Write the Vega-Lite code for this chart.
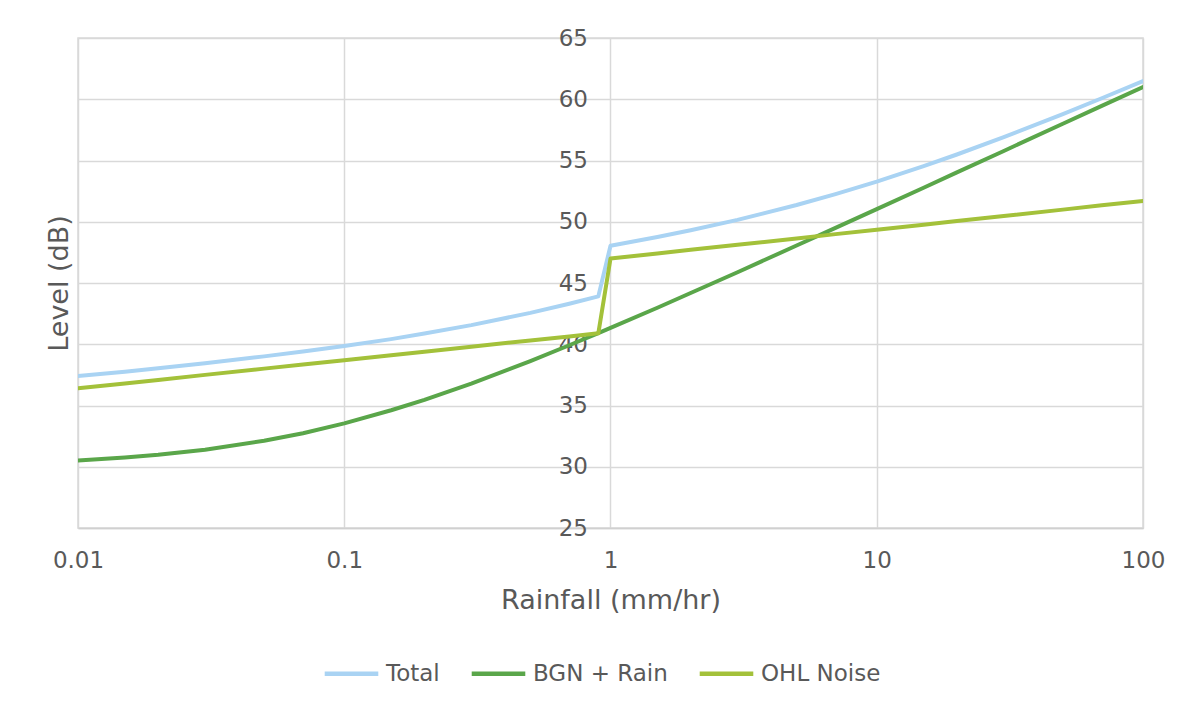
{
  "$schema": "https://vega.github.io/schema/vega-lite/v6.json",
  "autosize": "none",
  "width": 1065,
  "height": 490,
  "padding": {"left": 78, "top": 38, "right": 50, "bottom": 174},
  "background": "white",
  "config": {
    "font": "DejaVu Sans",
    "view": {"stroke": "#d9d9d9", "strokeWidth": 1.5},
    "axis": {
      "labelFont": "DejaVu Sans",
      "titleFont": "DejaVu Sans",
      "labelColor": "#595959",
      "titleColor": "#595959",
      "titleFontWeight": "normal",
      "gridColor": "#d9d9d9",
      "gridWidth": 1.5,
      "ticks": false
    },
    "legend": {
      "labelFont": "DejaVu Sans",
      "labelColor": "#595959"
    }
  },
  "data": {
    "values": [
      {"rain": 0.01, "series": "Total", "level": 37.40},
      {"rain": 0.015, "series": "Total", "level": 37.76},
      {"rain": 0.02, "series": "Total", "level": 38.04},
      {"rain": 0.03, "series": "Total", "level": 38.45},
      {"rain": 0.05, "series": "Total", "level": 39.01},
      {"rain": 0.07, "series": "Total", "level": 39.40},
      {"rain": 0.1, "series": "Total", "level": 39.86},
      {"rain": 0.15, "series": "Total", "level": 40.42},
      {"rain": 0.2, "series": "Total", "level": 40.87},
      {"rain": 0.3, "series": "Total", "level": 41.56},
      {"rain": 0.5, "series": "Total", "level": 42.56},
      {"rain": 0.7, "series": "Total", "level": 43.31},
      {"rain": 0.9, "series": "Total", "level": 43.91},
      {"rain": 1, "series": "Total", "level": 48.04},
      {"rain": 1.5, "series": "Total", "level": 48.75},
      {"rain": 2, "series": "Total", "level": 49.30},
      {"rain": 3, "series": "Total", "level": 50.15},
      {"rain": 5, "series": "Total", "level": 51.37},
      {"rain": 7, "series": "Total", "level": 52.26},
      {"rain": 10, "series": "Total", "level": 53.28},
      {"rain": 15, "series": "Total", "level": 54.54},
      {"rain": 20, "series": "Total", "level": 55.49},
      {"rain": 30, "series": "Total", "level": 56.90},
      {"rain": 50, "series": "Total", "level": 58.79},
      {"rain": 70, "series": "Total", "level": 60.08},
      {"rain": 100, "series": "Total", "level": 61.48},
      {"rain": 0.01, "series": "BGN + Rain", "level": 30.51},
      {"rain": 0.015, "series": "BGN + Rain", "level": 30.75},
      {"rain": 0.02, "series": "BGN + Rain", "level": 30.98},
      {"rain": 0.03, "series": "BGN + Rain", "level": 31.39},
      {"rain": 0.05, "series": "BGN + Rain", "level": 32.12},
      {"rain": 0.07, "series": "BGN + Rain", "level": 32.74},
      {"rain": 0.1, "series": "BGN + Rain", "level": 33.54},
      {"rain": 0.15, "series": "BGN + Rain", "level": 34.61},
      {"rain": 0.2, "series": "BGN + Rain", "level": 35.46},
      {"rain": 0.3, "series": "BGN + Rain", "level": 36.79},
      {"rain": 0.5, "series": "BGN + Rain", "level": 38.63},
      {"rain": 0.7, "series": "BGN + Rain", "level": 39.92},
      {"rain": 0.9, "series": "BGN + Rain", "level": 40.91},
      {"rain": 1, "series": "BGN + Rain", "level": 41.33},
      {"rain": 1.5, "series": "BGN + Rain", "level": 42.98},
      {"rain": 2, "series": "BGN + Rain", "level": 44.18},
      {"rain": 3, "series": "BGN + Rain", "level": 45.88},
      {"rain": 5, "series": "BGN + Rain", "level": 48.06},
      {"rain": 7, "series": "BGN + Rain", "level": 49.50},
      {"rain": 10, "series": "BGN + Rain", "level": 51.03},
      {"rain": 15, "series": "BGN + Rain", "level": 52.78},
      {"rain": 20, "series": "BGN + Rain", "level": 54.03},
      {"rain": 30, "series": "BGN + Rain", "level": 55.78},
      {"rain": 50, "series": "BGN + Rain", "level": 58.00},
      {"rain": 70, "series": "BGN + Rain", "level": 59.46},
      {"rain": 100, "series": "BGN + Rain", "level": 61.00},
      {"rain": 0.01, "series": "OHL Noise", "level": 36.40},
      {"rain": 0.015, "series": "OHL Noise", "level": 36.80},
      {"rain": 0.02, "series": "OHL Noise", "level": 37.09},
      {"rain": 0.03, "series": "OHL Noise", "level": 37.50},
      {"rain": 0.05, "series": "OHL Noise", "level": 38.01},
      {"rain": 0.07, "series": "OHL Noise", "level": 38.34},
      {"rain": 0.1, "series": "OHL Noise", "level": 38.70},
      {"rain": 0.15, "series": "OHL Noise", "level": 39.10},
      {"rain": 0.2, "series": "OHL Noise", "level": 39.39},
      {"rain": 0.3, "series": "OHL Noise", "level": 39.80},
      {"rain": 0.5, "series": "OHL Noise", "level": 40.31},
      {"rain": 0.7, "series": "OHL Noise", "level": 40.64},
      {"rain": 0.9, "series": "OHL Noise", "level": 40.89},
      {"rain": 1, "series": "OHL Noise", "level": 47.00},
      {"rain": 1.5, "series": "OHL Noise", "level": 47.41},
      {"rain": 2, "series": "OHL Noise", "level": 47.71},
      {"rain": 3, "series": "OHL Noise", "level": 48.12},
      {"rain": 5, "series": "OHL Noise", "level": 48.64},
      {"rain": 7, "series": "OHL Noise", "level": 48.99},
      {"rain": 10, "series": "OHL Noise", "level": 49.35},
      {"rain": 15, "series": "OHL Noise", "level": 49.76},
      {"rain": 20, "series": "OHL Noise", "level": 50.06},
      {"rain": 30, "series": "OHL Noise", "level": 50.47},
      {"rain": 50, "series": "OHL Noise", "level": 50.99},
      {"rain": 70, "series": "OHL Noise", "level": 51.34},
      {"rain": 100, "series": "OHL Noise", "level": 51.70}
    ]
  },
  "mark": {"type": "line", "strokeWidth": 4, "strokeCap": "round", "strokeJoin": "round", "clip": true},
  "encoding": {
    "x": {
      "field": "rain",
      "type": "quantitative",
      "scale": {"type": "log", "domain": [0.01, 100], "nice": false},
      "axis": {
        "values": [0.01, 0.1, 1, 10, 100],
        "format": "~g",
        "title": "Rainfall (mm/hr)",
        "labelFontSize": 23,
        "titleFontSize": 27,
        "labelPadding": 21,
        "titlePadding": 15,
        "domain": true,
        "domainColor": "#d0d0d0",
        "domainWidth": 1.5,
        "labelFlush": false,
        "labelOverlap": false,
        "grid": true
      }
    },
    "y": {
      "field": "level",
      "type": "quantitative",
      "scale": {"domain": [25, 65], "nice": false, "zero": false},
      "axis": {
        "values": [25, 30, 35, 40, 45, 50, 55, 60, 65],
        "title": "Level (dB)",
        "offset": -532.5,
        "domain": false,
        "labelFontSize": 23,
        "titleFontSize": 27,
        "labelPadding": 23,
        "labelBaseline": "middle",
        "labelFlush": false,
        "labelOverlap": false,
        "titleX": -537,
        "titleY": 245,
        "grid": true
      }
    },
    "color": {
      "field": "series",
      "type": "nominal",
      "scale": {
        "domain": ["Total", "BGN + Rain", "OHL Noise"],
        "range": ["#a9d3f3", "#5aa64a", "#a3c13a"]
      },
      "legend": {
        "title": null,
        "orient": "none",
        "direction": "horizontal",
        "legendX": 244,
        "legendY": 606,
        "symbolType": "stroke",
        "symbolSize": 2870,
        "symbolStrokeWidth": 4.5,
        "labelFontSize": 23,
        "labelOffset": 5,
        "columnPadding": 22
      }
    }
  }
}
